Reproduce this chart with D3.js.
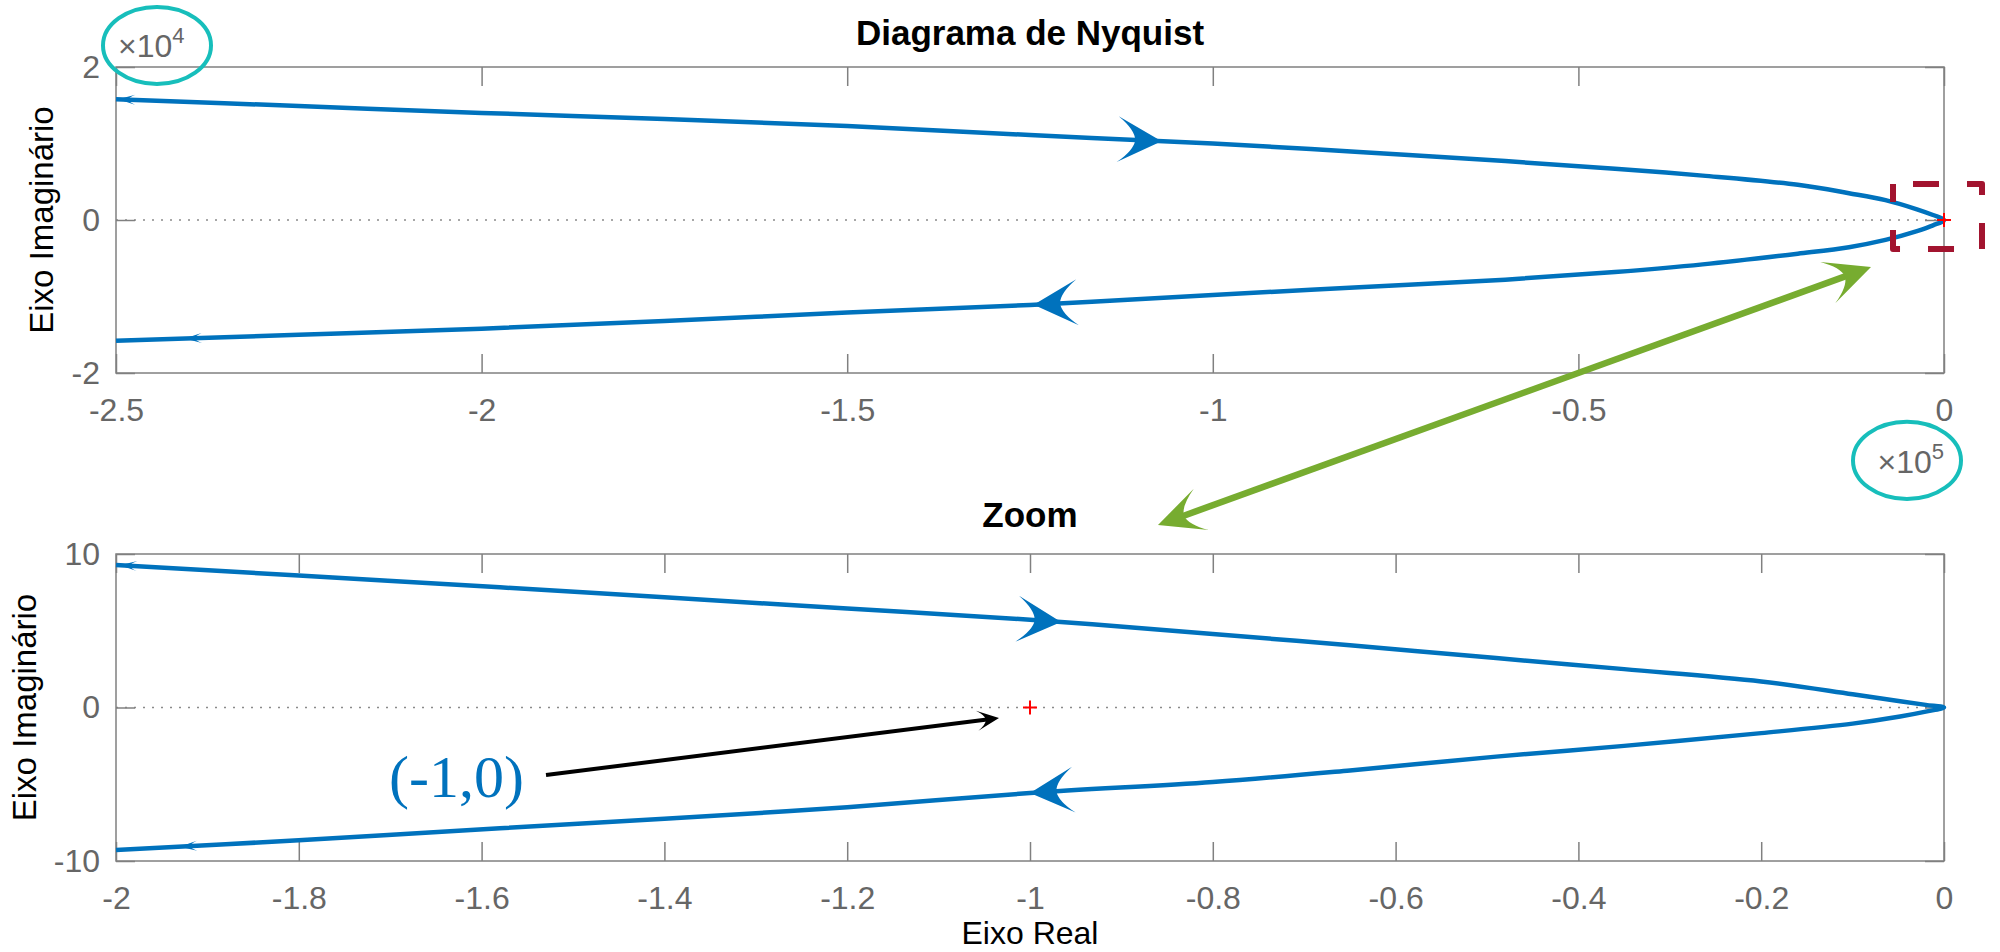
<!DOCTYPE html>
<html>
<head>
<meta charset="utf-8">
<script src="https://cdn.jsdelivr.net/npm/d3@7"></script>
<style>
    body { margin: 0; background: #fff; }
    text { font-family: "Liberation Sans", Arial, Helvetica, sans-serif; }
</style>
</head>
<body>
<div id="chart"></div>
<script>
// valores (Diagrama de Nyquist, ramo superior e inferior)
const topUpperRe = [-2.5e5, -2.25e5, -2.0e5, -1.75e5, -1.5e5, -1.25e5, -1.0e5, -0.8e5, -0.6e5, -0.45e5, -0.33e5, -0.2e5, -0.13e5, -0.08e5, -0.037e5, -0.015e5, 0]
const topUpperIm = [1.58e4, 1.49e4, 1.40e4, 1.32e4, 1.23e4, 1.11e4, 1.00e4, 0.89e4, 0.77e4, 0.67e4, 0.58e4, 0.46e4, 0.35e4, 0.26e4, 0.14e4, 0.065e4, 0]
const topLowerRe = topUpperRe
const topLowerIm = [-1.58e4, -1.50e4, -1.42e4, -1.32e4, -1.21e4, -1.11e4, -0.98e4, -0.88e4, -0.78e4, -0.68e4, -0.58e4, -0.44e4, -0.355e4, -0.26e4, -0.145e4, -0.07e4, 0]

// zoom em torno de (-1,0)
const botUpperRe = [-2, -1.8, -1.58, -1.4, -1.2, -1.0, -0.8, -0.65, -0.49, -0.35, -0.2, -0.1, -0.048, -0.02, 0]
const botUpperIm = [9.29, 8.6, 7.83, 7.18, 6.45, 5.72, 4.79, 4.05, 3.22, 2.5, 1.70, 0.86, 0.41, 0.17, 0]
const botLowerRe = botUpperRe
const botLowerIm = [-9.29, -8.65, -7.87, -7.25, -6.5, -5.57, -4.85, -4.1, -3.2, -2.5, -1.67, -1.05, -0.59, -0.27, 0]

// ticks
const topXTicks = [-2.5e5, -2e5, -1.5e5, -1e5, -0.5e5, 0]
const topXLabels = ['-2.5', '-2', '-1.5', '-1', '-0.5', '0']
const topYTicks = [-2e4, 0, 2e4]
const topYLabels = ['-2', '0', '2']
const botXTicks = [-2, -1.8, -1.6, -1.4, -1.2, -1, -0.8, -0.6, -0.4, -0.2, 0]
const botXLabels = ['-2', '-1.8', '-1.6', '-1.4', '-1.2', '-1', '-0.8', '-0.6', '-0.4', '-0.2', '0']
const botYTicks = [-10, 0, 10]
const botYLabels = ['-10', '0', '10']

// posicao das setas de direcao (parte real)
const topArrowUpper = -1.07e5, topArrowLower = -1.245e5
const topSmallUpper = -2.497e5, topSmallLower = -2.406e5
const botArrowUpper = -0.966, botArrowLower = -1.0
const botSmallUpper = -1.9956, botSmallLower = -1.93

const W = 2000, H = 952
const blue = '#0072BD'
const axisGray = '#808080'
const tickText = '#666666'

const svg = d3.select('#chart').append('svg')
    .attr('width', W).attr('height', H)

// coordenadas normalizadas da figura (como annotation do MATLAB)
const fx = d3.scaleLinear().domain([0, 1]).range([0, W])
const fy = d3.scaleLinear().domain([0, 1]).range([H, 0])

const panels = [
    {
        x: d3.scaleLinear().domain([-2.5e5, 0]).range([116, 1944]),
        y: d3.scaleLinear().domain([-2e4, 2e4]).range([373, 67]),
        xTicks: topXTicks, xLabels: topXLabels, yTicks: topYTicks, yLabels: topYLabels,
        upRe: topUpperRe, upIm: topUpperIm, loRe: topLowerRe, loIm: topLowerIm,
        arrows: [topArrowUpper, topArrowLower], small: [topSmallUpper, topSmallLower],
        title: 'Diagrama de Nyquist', titleY: 45, ylabelX: 53, marker: 0
    },
    {
        x: d3.scaleLinear().domain([-2, 0]).range([116, 1944]),
        y: d3.scaleLinear().domain([-10, 10]).range([861, 554]),
        xTicks: botXTicks, xLabels: botXLabels, yTicks: botYTicks, yLabels: botYLabels,
        upRe: botUpperRe, upIm: botUpperIm, loRe: botLowerRe, loIm: botLowerIm,
        arrows: [botArrowUpper, botArrowLower], small: [botSmallUpper, botSmallLower],
        title: 'Zoom', titleY: 527, ylabelX: 36, marker: -1
    }
]

panels.forEach(drawPanel)
drawAnnotations()

//ponta de seta com traseira concava
function arrowHead(g, px, py, angle, L, Wd, color) {
    const d = `M0,0 L${-L},${-Wd} Q${-0.62 * L},${-0.45 * Wd} ${-0.6 * L},0 Q${-0.62 * L},${0.45 * Wd} ${-L},${Wd} Z`
    g.append('path')
        .attr('d', d)
        .attr('transform', `translate(${px},${py}) rotate(${angle})`)
        .attr('fill', color)
}

//ponto e direcao sobre um ramo da curva
function pointOnBranch(re, im, at, x, y) {
    let i = d3.bisectLeft(re, at)
    i = Math.max(1, Math.min(re.length - 1, i))
    const t = (at - re[i - 1]) / (re[i] - re[i - 1])
    const px = x(re[i - 1] + t * (re[i] - re[i - 1]))
    const py = y(im[i - 1] + t * (im[i] - im[i - 1]))
    const ang = Math.atan2(y(im[i]) - y(im[i - 1]), x(re[i]) - x(re[i - 1])) * 180 / Math.PI
    return { px, py, ang }
}

function styleAxis(sel, labels) {
    sel.selectAll('.domain').remove()
    sel.selectAll('.tick line').attr('stroke', axisGray).attr('stroke-width', 1.5)
    sel.attr('font-family', null).attr('font-size', null)
    sel.selectAll('.tick text')
        .attr('fill', tickText)
        .style('font-size', '32px')
    if (!labels) sel.selectAll('.tick text').remove()
}

function drawPanel(p) {
    const g = svg.append('g')
    const [x0, x1] = p.x.range()
    const [yb, yt] = p.y.range()
    const tick = 19

    //linha pontilhada em zero
    g.append('line')
        .attr('x1', x0).attr('x2', x1)
        .attr('y1', p.y(0)).attr('y2', p.y(0))
        .attr('stroke', '#8a8a8a').attr('stroke-width', 1.5)
        .attr('stroke-dasharray', '2,7')

    //eixos com ticks para dentro
    g.append('g').attr('transform', `translate(0,${yb})`)
        .call(d3.axisBottom(p.x).tickValues(p.xTicks).tickFormat((d, i) => p.xLabels[i])
            .tickSizeInner(-tick).tickSizeOuter(0).tickPadding(25))
        .call(s => styleAxis(s, true))
    g.append('g').attr('transform', `translate(0,${yt})`)
        .call(d3.axisTop(p.x).tickValues(p.xTicks).tickSizeInner(-tick).tickSizeOuter(0))
        .call(s => styleAxis(s, false))
    g.append('g').attr('transform', `translate(${x0},0)`)
        .call(d3.axisLeft(p.y).tickValues(p.yTicks).tickFormat((d, i) => p.yLabels[i])
            .tickSizeInner(-tick).tickSizeOuter(0).tickPadding(16))
        .call(s => styleAxis(s, true))
    g.append('g').attr('transform', `translate(${x1},0)`)
        .call(d3.axisRight(p.y).tickValues(p.yTicks).tickSizeInner(-tick).tickSizeOuter(0))
        .call(s => styleAxis(s, false))

    //caixa
    g.append('rect')
        .attr('x', x0).attr('y', yt)
        .attr('width', x1 - x0).attr('height', yb - yt)
        .attr('fill', 'none').attr('stroke', axisGray).attr('stroke-width', 1.5)

    //curva: ramo superior ate a origem e volta pelo inferior
    const pts = p.upRe.map((r, i) => [r, p.upIm[i]])
    for (let i = p.loRe.length - 2; i >= 0; i--) pts.push([p.loRe[i], p.loIm[i]])
    const line = d3.line()
        .x(d => p.x(d[0]))
        .y(d => p.y(d[1]))
        .curve(d3.curveCatmullRom.alpha(0.5))
    g.append('path')
        .attr('d', line(pts))
        .attr('fill', 'none')
        .attr('stroke', blue)
        .attr('stroke-width', 4.5)
        .attr('stroke-linejoin', 'round')

    //setas de direcao
    const a1 = pointOnBranch(p.upRe, p.upIm, p.arrows[0], p.x, p.y)
    arrowHead(g, a1.px, a1.py, a1.ang, 44, 23, blue)
    const a2 = pointOnBranch(p.loRe, p.loIm, p.arrows[1], p.x, p.y)
    arrowHead(g, a2.px, a2.py, a2.ang + 180, 44, 23, blue)
    const s1 = pointOnBranch(p.upRe, p.upIm, p.small[0], p.x, p.y)
    arrowHead(g, s1.px, s1.py, s1.ang + 180, 17, 5, blue)
    const s2 = pointOnBranch(p.loRe, p.loIm, p.small[1], p.x, p.y)
    arrowHead(g, s2.px, s2.py, s2.ang + 180, 17, 5, blue)

    //marcador vermelho em (-1,0)
    const mx = p.x(p.marker), my = p.y(0)
    g.append('path')
        .attr('d', `M${mx - 7},${my}H${mx + 7}M${mx},${my - 7}V${my + 7}`)
        .attr('stroke', '#FF0000').attr('stroke-width', 2)

    //titulo
    g.append('text')
        .attr('x', (x0 + x1) / 2).attr('y', p.titleY)
        .attr('text-anchor', 'middle')
        .style('font-weight', 'bold').style('font-size', '35px')
        .text(p.title)

    //label do eixo y
    g.append('text')
        .attr('transform', `translate(${p.ylabelX},${(yb + yt) / 2}) rotate(-90)`)
        .attr('text-anchor', 'middle')
        .style('font-size', '33px')
        .text('Eixo Imaginário')
}

function expLabel(x, y, exp, anchor) {
    const t = svg.append('text')
        .attr('x', x).attr('y', y)
        .attr('text-anchor', anchor)
        .attr('fill', tickText)
        .style('font-size', '32px')
    t.append('tspan').style('font-weight', '300').text('×')
    t.append('tspan').text('10')
    t.append('tspan').attr('dy', -14).style('font-size', '22px').text(exp)
}

function drawAnnotations() {
    const top = panels[0], bot = panels[1]

    //label do eixo x
    svg.append('text')
        .attr('x', (bot.x.range()[0] + bot.x.range()[1]) / 2).attr('y', 944)
        .attr('text-anchor', 'middle')
        .style('font-size', '32px')
        .text('Eixo Real')

    //multiplicadores dos eixos
    expLabel(top.x.range()[0] + 2, 57, '4', 'start')
    expLabel(top.x.range()[1], 473, '5', 'end')

    //elipses ciano
    const ellipses = [[0.0515, 0.9118, 0.054, 0.0809], [0.9265, 0.4758, 0.054, 0.0812]]
    ellipses.forEach(e => {
        svg.append('ellipse')
            .attr('cx', fx(e[0] + e[2] / 2)).attr('cy', fy(e[1] + e[3] / 2))
            .attr('rx', fx(e[2]) / 2).attr('ry', (fy(0) - fy(e[3])) / 2)
            .attr('fill', 'none').attr('stroke', '#17BEBB').attr('stroke-width', 4)
    })

    //retangulo tracejado em torno da origem
    const r = [0.9465, 0.7384, 0.0445, 0.0683]
    svg.append('rect')
        .attr('x', fx(r[0])).attr('y', fy(r[1] + r[3]))
        .attr('width', fx(r[2])).attr('height', fy(0) - fy(r[3]))
        .attr('fill', 'none').attr('stroke', '#A2142F').attr('stroke-width', 6)
        .attr('stroke-dasharray', '26,28').attr('stroke-dashoffset', 34)
        .attr('stroke-linejoin', 'round')

    //seta dupla verde
    const gx = [0.9355, 0.579], gy = [0.7195, 0.4485]
    const p1 = [fx(gx[0]), fy(gy[0])], p2 = [fx(gx[1]), fy(gy[1])]
    const ang = Math.atan2(p1[1] - p2[1], p1[0] - p2[0])
    const back = 26
    svg.append('line')
        .attr('x1', p1[0] - back * Math.cos(ang)).attr('y1', p1[1] - back * Math.sin(ang))
        .attr('x2', p2[0] + back * Math.cos(ang)).attr('y2', p2[1] + back * Math.sin(ang))
        .attr('stroke', '#77AC30').attr('stroke-width', 6.5)
    arrowHead(svg, p1[0], p1[1], ang * 180 / Math.PI, 46, 22, '#77AC30')
    arrowHead(svg, p2[0], p2[1], ang * 180 / Math.PI + 180, 46, 22, '#77AC30')

    //seta preta apontando para (-1,0)
    const bx = [0.273, 0.4995], by = [0.1859, 0.2458]
    const q1 = [fx(bx[0]), fy(by[0])], q2 = [fx(bx[1]), fy(by[1])]
    const bang = Math.atan2(q2[1] - q1[1], q2[0] - q1[0])
    svg.append('line')
        .attr('x1', q1[0]).attr('y1', q1[1])
        .attr('x2', q2[0] - 12 * Math.cos(bang)).attr('y2', q2[1] - 12 * Math.sin(bang))
        .attr('stroke', '#000').attr('stroke-width', 4)
    arrowHead(svg, q2[0], q2[1], bang * 180 / Math.PI, 22, 10, '#000')

    //texto (-1,0)
    svg.append('text')
        .attr('x', fx(0.1945)).attr('y', fy(0.1628))
        .attr('fill', blue)
        .style('font-family', '"Liberation Serif", "Times New Roman", serif')
        .style('font-size', '60px')
        .text('(-1,0)')
}
</script>
</body>
</html>
